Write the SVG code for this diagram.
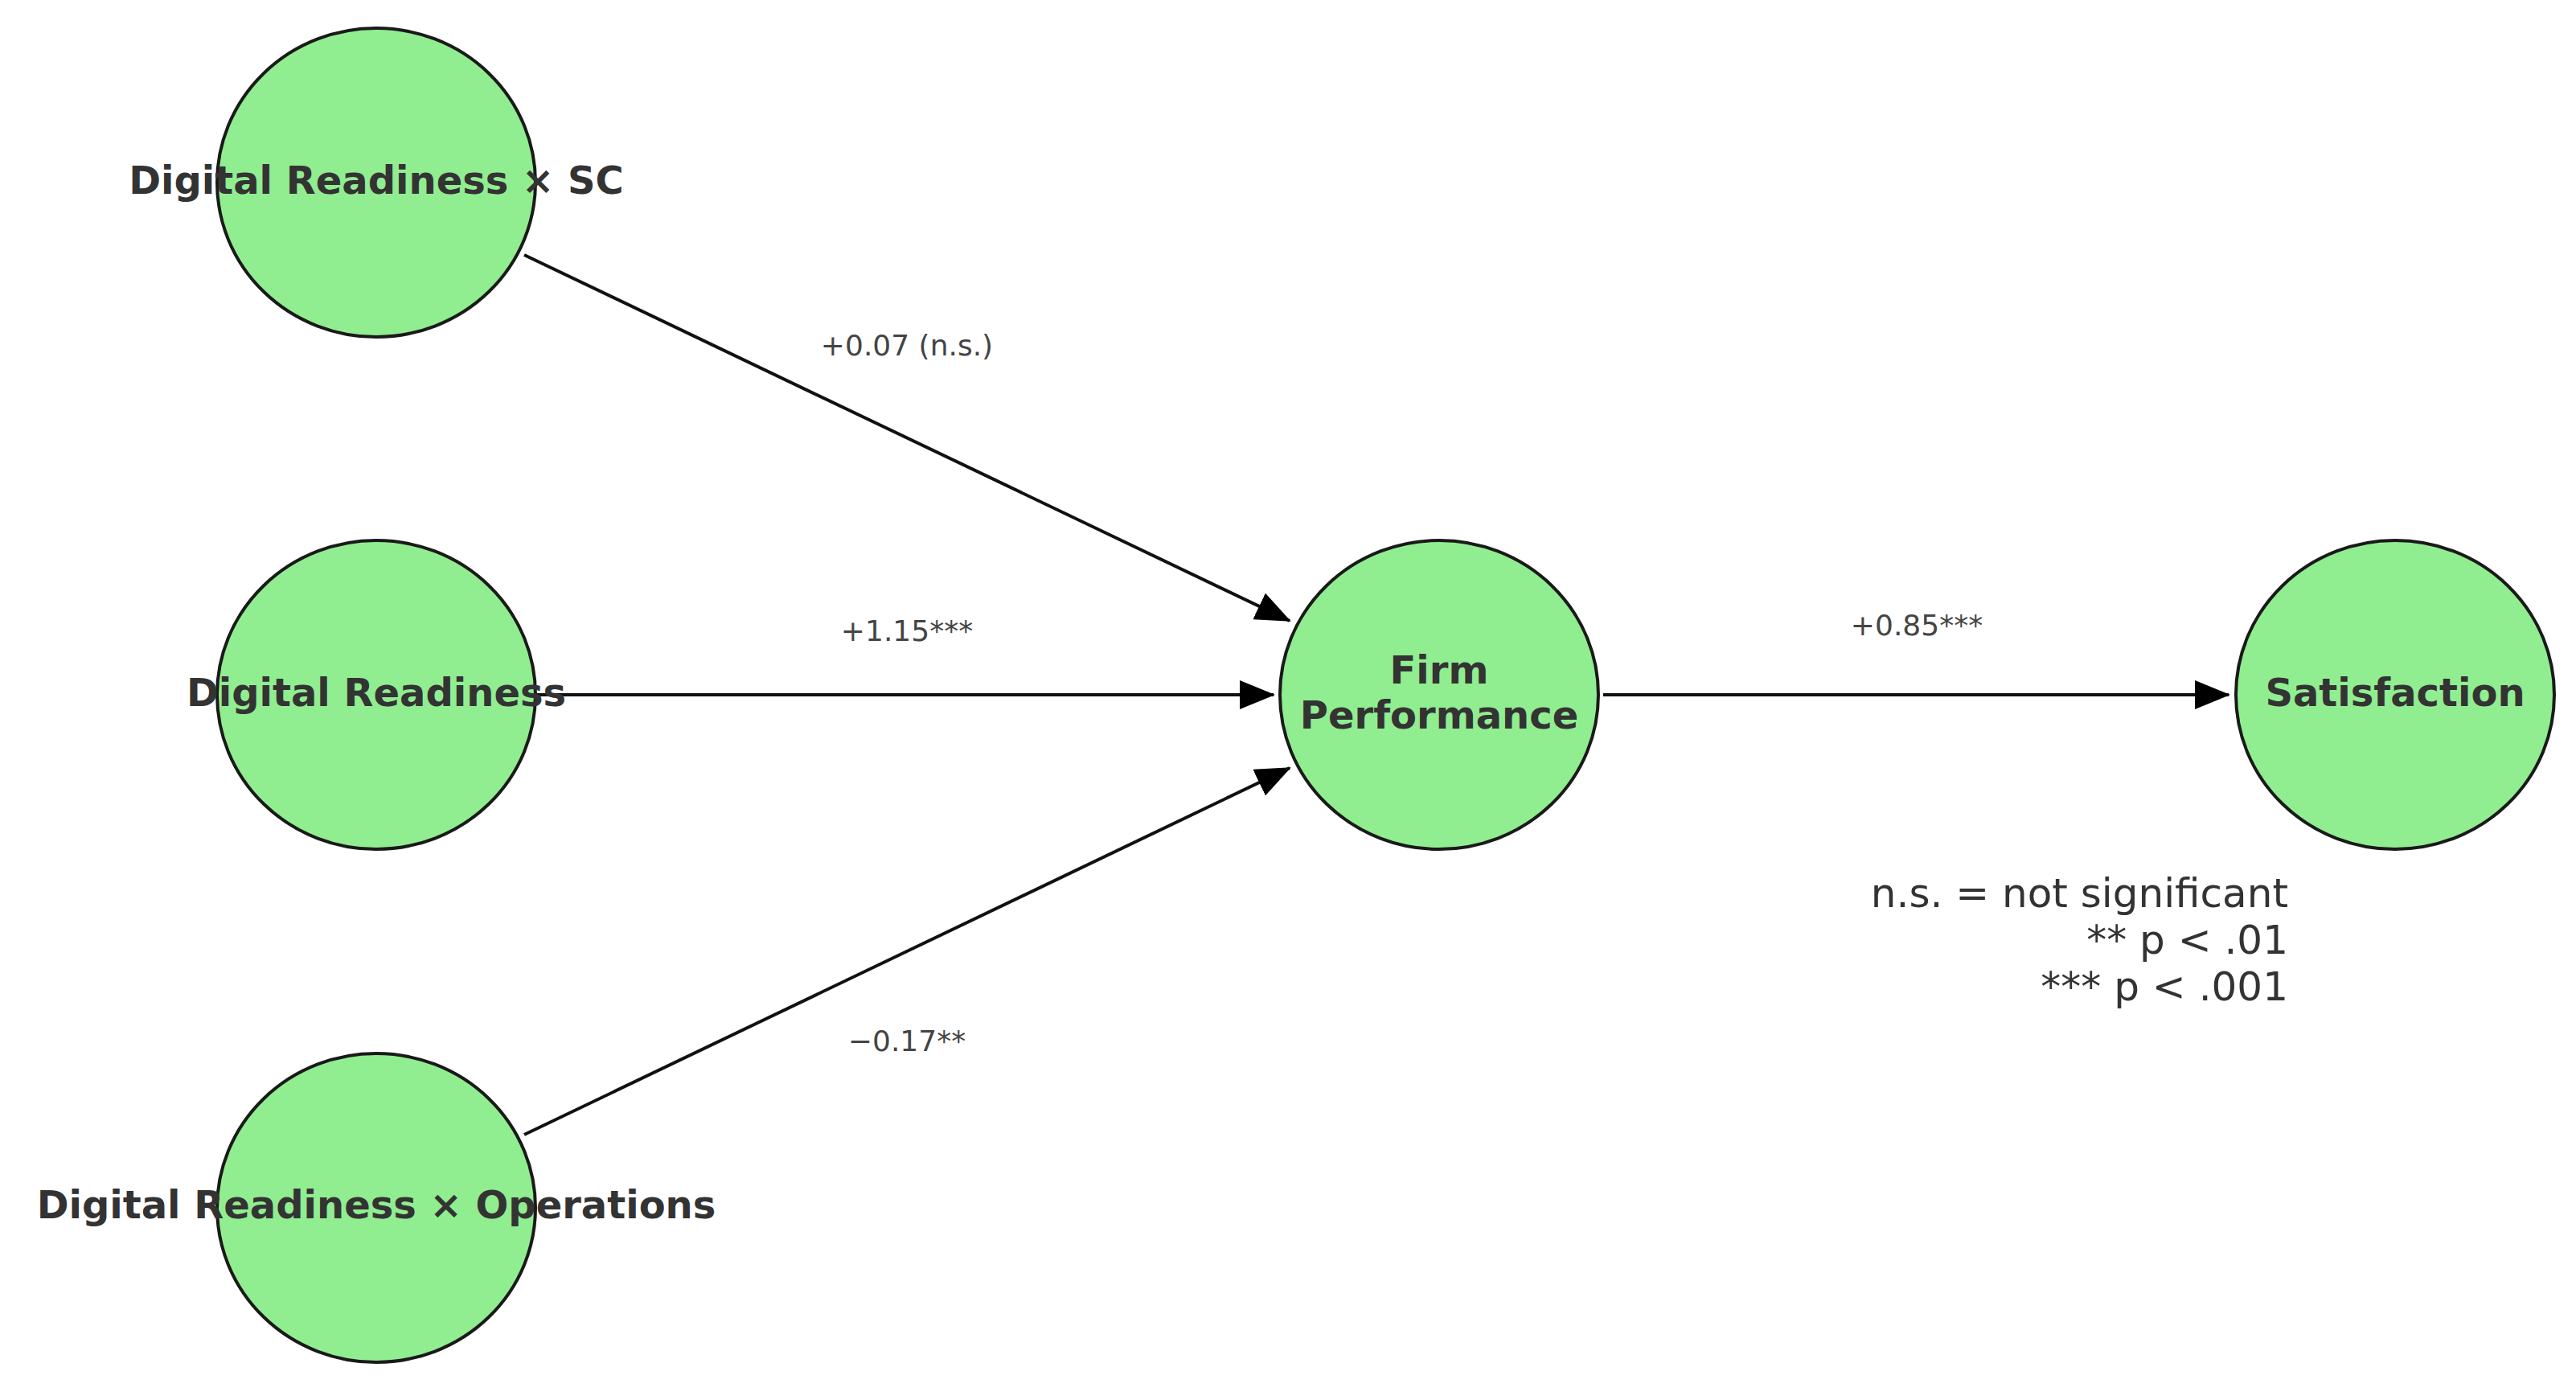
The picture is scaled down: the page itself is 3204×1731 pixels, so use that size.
<svg xmlns="http://www.w3.org/2000/svg" width="3204" height="1731" viewBox="0 0 3204 1731">
<style>
.n{fill:#90ee90;stroke:#1a1a1a;stroke-width:4}
.t{font-family:"DejaVu Sans",sans-serif;font-weight:bold;font-size:48px;fill:#333;text-anchor:middle}
.e{font-family:"DejaVu Sans",sans-serif;font-size:36px;fill:#444;text-anchor:middle}
.l{font-family:"DejaVu Sans",sans-serif;font-size:50px;fill:#333;text-anchor:end}
.c{stroke:#111;stroke-width:4;fill:none;marker-end:url(#a)}
</style>
<defs><marker id="a" markerUnits="userSpaceOnUse" markerWidth="44" markerHeight="36" refX="42" refY="18" orient="auto"><path d="M0,0 L44,18 L0,36 Z" fill="#000"/></marker></defs>
<rect width="3204" height="1731" fill="#fff"/>
<g id="connectors">
<line class="c" x1="652" y1="317" x2="1604" y2="772"/>
<line class="c" x1="666" y1="864" x2="1584" y2="864"/>
<line class="c" x1="652" y1="1411" x2="1604" y2="955"/>
<line class="c" x1="1994" y1="864" x2="2772" y2="864"/>
<text class="e" x="1128" y="442">+0.07 (n.s.)</text>
<text class="e" x="1128" y="797">+1.15***</text>
<text class="e" x="1128" y="1307">−0.17**</text>
<text class="e" x="2384" y="790">+0.85***</text>
</g>
<g id="n1"><ellipse class="n" cx="468" cy="227" rx="198" ry="192"/><text class="t" x="468" y="241">Digital Readiness × SC</text></g>
<g id="n2"><ellipse class="n" cx="468" cy="864" rx="198" ry="192"/><text class="t" x="468" y="878">Digital Readiness</text></g>
<g id="n3"><ellipse class="n" cx="468" cy="1502" rx="198" ry="192"/><text class="t" x="468" y="1515">Digital Readiness × Operations</text></g>
<g id="n4"><ellipse class="n" cx="1790" cy="864" rx="198" ry="192"/><text class="t" x="1790" y="850">Firm</text><text class="t" x="1790" y="906">Performance</text></g>
<g id="n5"><ellipse class="n" cx="2979" cy="864" rx="198" ry="192"/><text class="t" x="2979" y="878">Satisfaction</text></g>
<g id="legend">
<text class="l" x="2846" y="1128">n.s. = not significant</text>
<text class="l" x="2846" y="1186">** p &lt; .01</text>
<text class="l" x="2846" y="1244">*** p &lt; .001</text>
</g>
</svg>
